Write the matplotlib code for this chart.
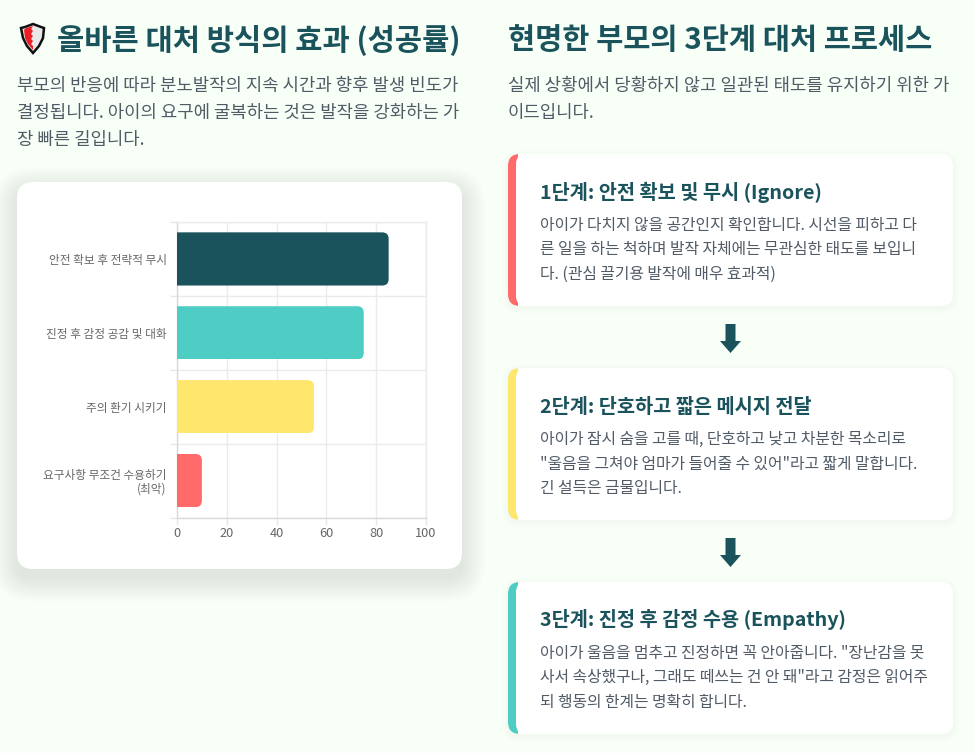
import matplotlib
matplotlib.use('Agg')
import matplotlib.pyplot as plt
from matplotlib.patches import FancyBboxPatch, Polygon, Rectangle

plt.rcParams['font.family'] = ['Noto Sans CJK KR', 'DejaVu Sans']

# chart data
categories = ['안전 확보 후 전략적 무시', '진정 후 감정 공감 및 대화', '주의 환기 시키기', '요구사항 무조건 수용하기\n(최악)']
success_rates = [85, 75, 55, 10]
bar_colors = ['#1A535C', '#4ECDC4', '#FFE66D', '#FF6B6B']
x_ticks = [0, 20, 40, 60, 80, 100]

left_title = '올바른 대처 방식의 효과 (성공률)'
left_lines = ['부모의 반응에 따라 분노발작의 지속 시간과 향후 발생 빈도가',
              '결정됩니다. 아이의 요구에 굴복하는 것은 발작을 강화하는 가',
              '장 빠른 길입니다.']
right_title = '현명한 부모의 3단계 대처 프로세스'
right_lines = ['실제 상황에서 당황하지 않고 일관된 태도를 유지하기 위한 가',
               '이드입니다.']

step_titles = ['1단계: 안전 확보 및 무시 (Ignore)',
               '2단계: 단호하고 짧은 메시지 전달',
               '3단계: 진정 후 감정 수용 (Empathy)']
step_bodies = [['아이가 다치지 않을 공간인지 확인합니다. 시선을 피하고 다',
                '른 일을 하는 척하며 발작 자체에는 무관심한 태도를 보입니',
                '다. (관심 끌기용 발작에 매우 효과적)'],
               ['아이가 잠시 숨을 고를 때, 단호하고 낮고 차분한 목소리로',
                '"울음을 그쳐야 엄마가 들어줄 수 있어"라고 짧게 말합니다.',
                '긴 설득은 금물입니다.'],
               ['아이가 울음을 멈추고 진정하면 꼭 안아줍니다. "장난감을 못',
                '사서 속상했구나, 그래도 떼쓰는 건 안 돼"라고 감정은 읽어주',
                '되 행동의 한계는 명확히 합니다.']]
step_colors = ['#FF6B6B', '#FFE66D', '#4ECDC4']
step_tops = [154, 368, 582]

W, H = 975, 753
BG = '#F7FFF7'
DARK = '#1A535C'
GRAY = '#505B66'

fig = plt.figure(figsize=(W / 100, H / 100), dpi=100, facecolor=BG)

# 전체 캔버스: 픽셀 좌표계
bg = fig.add_axes([0, 0, 1, 1])
bg.set_xlim(0, W)
bg.set_ylim(H, 0)
bg.axis('off')


def card(x, y, w, h, r, spread, alpha, dy):
    # 그림자를 겹쳐 그린 뒤 흰색 카드
    for i in range(spread, 0, -1):
        bg.add_patch(FancyBboxPatch((x - i, y - i + dy), w + 2 * i, h + 2 * i,
                                    boxstyle=f'round,pad=0,rounding_size={r + i}',
                                    fc='#1A535C', ec='none', alpha=alpha))
    p = FancyBboxPatch((x, y), w, h, boxstyle=f'round,pad=0,rounding_size={r}',
                       fc='white', ec='none')
    bg.add_patch(p)
    return p


# 왼쪽 머리글
bg.text(57, 49, left_title, fontsize=21.3, fontweight='bold', color=DARK, va='baseline')
for i, line in enumerate(left_lines):
    bg.text(17, 90.5 + i * 27, line, fontsize=12.8, color=GRAY, va='baseline')

# 방패 아이콘
bg.add_patch(Polygon([(33, 24), (41, 27), (44, 28), (43, 38), (39, 46), (33, 53),
                      (27, 46), (23, 38), (21, 28), (25, 27)], fc='#E8E8E8', ec='#111111', lw=1.8))
bg.add_patch(Polygon([(33, 26), (26, 28), (24, 30), (25, 38), (28, 44), (33, 50),
                      (33, 46), (31, 44), (33, 41), (31, 39), (33, 36), (31, 34), (33, 31), (31, 29)],
                     fc='#EE1C25', ec='none'))

# 오른쪽 머리글
bg.text(508, 49, right_title, fontsize=21.25, fontweight='bold', color=DARK, va='baseline')
for i, line in enumerate(right_lines):
    bg.text(508, 90.5 + i * 27, line, fontsize=12.8, color=GRAY, va='baseline')

# 차트 카드
card(17, 182, 445, 387, 16, 24, 0.0021, 9)

# 단계 카드
for top, color, title, body in zip(step_tops, step_colors, step_titles, step_bodies):
    shape = card(508, top, 445, 152, 12, 6, 0.004, 2)
    strip = Rectangle((508, top), 10, 152, fc=color, ec='none')
    bg.add_patch(strip)
    strip.set_clip_path(shape)
    inner = FancyBboxPatch((516, top), 30, 152, boxstyle='round,pad=0,rounding_size=10',
                           fc='white', ec='none')
    bg.add_patch(inner)
    bg.text(540, top + 44.5, title, fontsize=14.2, fontweight='bold', color=DARK, va='baseline')
    for i, line in enumerate(body):
        bg.text(540, top + 76 + i * 24.3, line, fontsize=11.4, color=GRAY, va='baseline')

# 단계 사이 화살표
for top in step_tops[:2]:
    y = top + 170
    bg.add_patch(Polygon([(725.5, y), (735.5, y), (735.5, y + 17), (741, y + 17),
                          (730.5, y + 29), (720, y + 17), (725.5, y + 17)], fc=DARK, ec='none'))

# 막대 차트
ax = fig.add_axes([177 / W, 1 - 517.5 / H, (426 - 177) / W, (517.5 - 222) / H])
ax.set_facecolor('white')
y_pos = list(range(len(categories)))
bars = ax.barh(y_pos, success_rates, height=0.72, color=bar_colors, zorder=3)
ax.set_xlim(0, 100)
ax.set_ylim(len(categories) - 0.5, -0.5)

# 막대 오른쪽 모서리만 둥글게
aspect = (249 / 100) / (295.5 / 4)
for bar in bars:
    clip = FancyBboxPatch((-10, bar.get_y()), bar.get_width() + 10, bar.get_height(),
                          boxstyle='round,pad=0,rounding_size=2.6', mutation_aspect=aspect,
                          transform=ax.transData)
    bar.set_clip_path(clip)

ax.set_xticks(x_ticks)
ax.set_yticks(y_pos)
ax.set_yticklabels(categories, fontsize=8.45, color='#666666', linespacing=1.05)
ax.set_yticks([i + 0.5 for i in range(-1, 4)], minor=True)
ax.tick_params(axis='x', labelsize=9.2, labelcolor='#666666', length=5, width=1, color='#E8E8E8', pad=2)
ax.tick_params(axis='y', which='major', length=0, pad=7.5)
ax.tick_params(axis='y', which='minor', length=5, width=1, color='#E8E8E8')
ax.grid(True, axis='x', color='#EBEBEB', lw=1, zorder=0)
ax.grid(True, axis='y', which='minor', color='#EBEBEB', lw=1, zorder=0)
for name, spine in ax.spines.items():
    spine.set_color('#EBEBEB')
    spine.set_linewidth(1)
ax.spines['bottom'].set_color('#D9D9D9')
ax.spines['left'].set_color('#D9D9D9')

fig.savefig('out.png', dpi=100, facecolor=BG)
